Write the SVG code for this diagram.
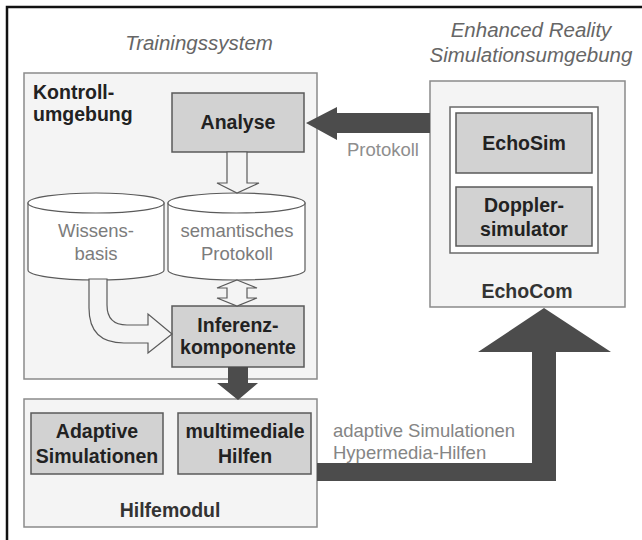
<svg xmlns="http://www.w3.org/2000/svg" width="642" height="540" viewBox="0 0 642 540">
  <style>
    .frame { fill: #f4f4f4; stroke: #8a8a8a; stroke-width: 1.5; }
    .node { fill: #d2d2d2; stroke: #5a5a5a; stroke-width: 1.5; }
    .inner { fill: #ffffff; stroke: #6a6a6a; stroke-width: 1.5; }
    .db { fill: #ffffff; stroke: #5a5a5a; stroke-width: 1.2; }
    .hollow { fill: #f4f4f4; stroke: #5a5a5a; stroke-width: 1.2; }
    .solid { fill: #4c4c4c; stroke: none; }
    .bold { font-family: "Liberation Sans", Arial, sans-serif; font-weight: bold; font-size: 19.5px; fill: #222; text-anchor: middle; }
    .light { font-family: "Liberation Sans", Arial, sans-serif; font-size: 18.5px; fill: #7c7c7c; text-anchor: middle; }
    .title { font-family: "Liberation Sans", Arial, sans-serif; font-style: italic; font-size: 20.5px; fill: #666; text-anchor: middle; }
  </style>

  <rect x="0" y="0" width="642" height="540" fill="#ffffff"/>
  <!-- outer border -->
  <path d="M7,540 L7,7 L642,7" fill="none" stroke="#111" stroke-width="2.5"/>

  <text class="title" x="199" y="50" font-size="21">Trainingssystem</text>
  <text class="title" x="531" y="37">Enhanced Reality</text>
  <text class="title" x="531" y="62">Simulationsumgebung</text>

  <!-- Kontrollumgebung -->
  <g id="kontrollumgebung">
    <rect class="frame" x="24" y="73" width="293" height="306"/>
    <text class="bold" x="33" y="99" style="text-anchor:start">Kontroll-</text>
    <text class="bold" x="33" y="121" style="text-anchor:start">umgebung</text>
  </g>

  <g id="analyse">
    <rect class="node" x="172" y="93" width="132" height="59"/>
    <text class="bold" x="238" y="129">Analyse</text>
  </g>

  <g id="wissensbasis">
    <path class="db" d="M28,203 L28,270 A68,10 0 0 0 164,270 L164,203 Z"/>
    <ellipse class="db" cx="96" cy="203" rx="68" ry="10"/>
    <text class="light" x="96" y="237">Wissens-</text>
    <text class="light" x="96" y="260">basis</text>
  </g>

  <g id="semantisches-protokoll">
    <path class="db" d="M168,203 L168,270 A68.5,10 0 0 0 305,270 L305,203 Z"/>
    <ellipse class="db" cx="236.5" cy="203" rx="68.5" ry="10"/>
    <text class="light" x="237" y="237">semantisches</text>
    <text class="light" x="237" y="260">Protokoll</text>
  </g>

  <g id="inferenzkomponente">
    <rect class="node" x="172" y="306" width="132" height="61"/>
    <text class="bold" x="238" y="332">Inferenz-</text>
    <text class="bold" x="238" y="354">komponente</text>
  </g>

  <!-- Hilfemodul -->
  <g id="hilfemodul">
    <rect class="frame" x="24" y="399" width="293" height="128"/>
    <text class="bold" x="170" y="517" style="fill:#333">Hilfemodul</text>
  </g>
  <g id="adaptive-simulationen">
    <rect class="node" x="31" y="413" width="132" height="61"/>
    <text class="bold" x="97" y="438">Adaptive</text>
    <text class="bold" x="97" y="463">Simulationen</text>
  </g>
  <g id="multimediale-hilfen">
    <rect class="node" x="178" y="413" width="133" height="61"/>
    <text class="bold" x="245" y="438">multimediale</text>
    <text class="bold" x="245" y="463">Hilfen</text>
  </g>

  <!-- EchoCom -->
  <g id="echocom">
    <rect class="frame" x="430" y="81" width="195" height="226"/>
    <rect class="inner" x="450" y="107" width="148" height="146"/>
    <text class="bold" x="527" y="298" style="fill:#333">EchoCom</text>
  </g>
  <g id="echosim">
    <rect class="node" x="456" y="113" width="136" height="60"/>
    <text class="bold" x="524" y="150">EchoSim</text>
  </g>
  <g id="dopplersimulator">
    <rect class="node" x="456" y="187" width="136" height="59"/>
    <text class="bold" x="524" y="212">Doppler-</text>
    <text class="bold" x="524" y="236">simulator</text>
  </g>

  <!-- connectors -->
  <g id="connectors">
    <!-- Analyse to semantisches Protokoll -->
    <path class="hollow" d="M227,152 L247,152 L247,183 L259,183 L237,193 L217,183 L227,183 Z"/>
    <!-- Wissensbasis to Inferenzkomponente -->
    <path class="hollow" d="M89,279 L89,308 Q89,343 124,343 L148,343 L148,353 L172,334 L148,314 L148,325 L127,325 Q107,325 107,305 L107,279 Z"/>
    <!-- semantisches Protokoll and Inferenzkomponente -->
    <path class="hollow" d="M237,280 L257,288 L247,288 L247,298 L257,298 L237,306 L217,298 L227,298 L227,288 L217,288 Z"/>
    <!-- Inferenzkomponente to Hilfemodul -->
    <path class="solid" d="M228,367 L248,367 L248,383 L258,383 L238,400 L217,383 L228,383 Z"/>
    <!-- Protokoll from EchoCom to Analyse -->
    <path class="solid" d="M430,113 L337,113 L337,107 L306,123 L337,140 L337,133 L430,133 Z"/>
    <text class="light" x="347" y="156" style="text-anchor:start;fill:#8e8e8e">Protokoll</text>
    <!-- Hilfemodul to EchoCom -->
    <path class="solid" d="M317,463 L532,463 L532,352 L478,352 L544,308 L611,352 L556,352 L556,481 L317,481 Z"/>
    <text class="light" x="333" y="437" style="text-anchor:start;fill:#858585">adaptive Simulationen</text>
    <text class="light" x="333" y="459" style="text-anchor:start;fill:#858585">Hypermedia-Hilfen</text>
  </g>
</svg>
